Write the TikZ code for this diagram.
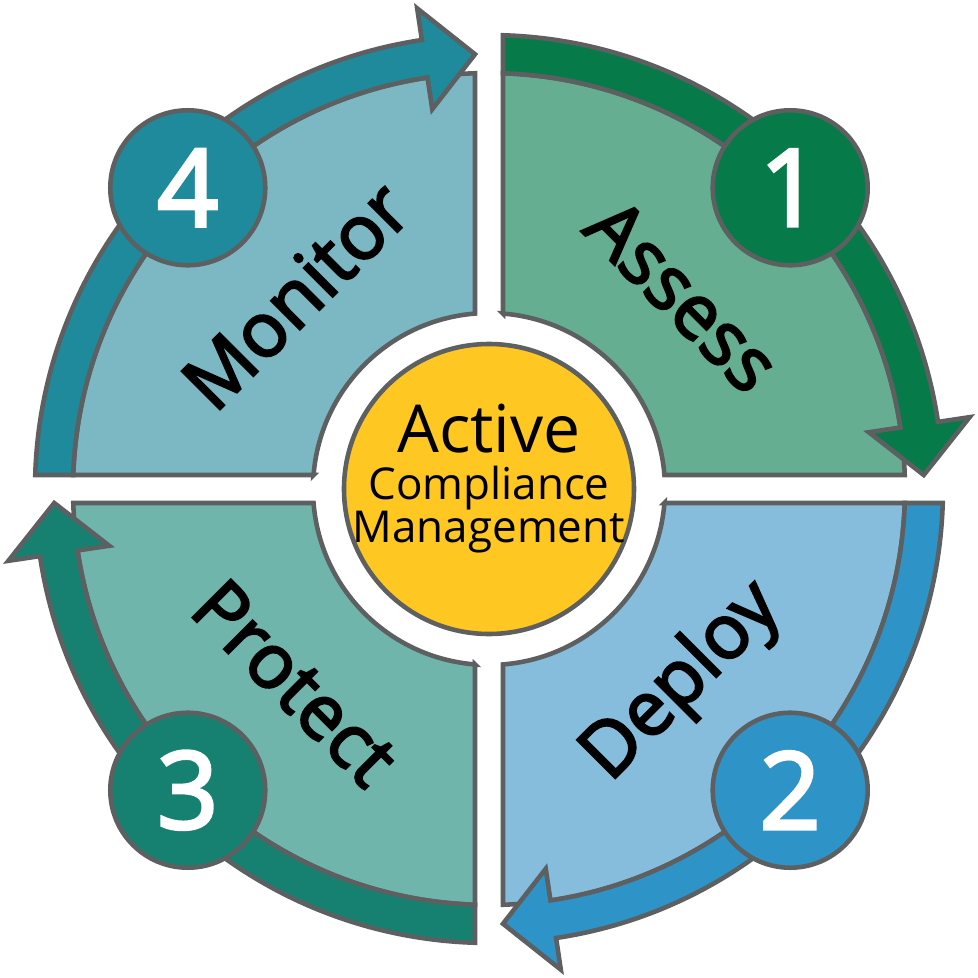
\documentclass[tikz,border=0pt]{standalone}
\usepackage{fontspec}
\setmainfont{Open Sans}
\newfontfamily\stepfont[FakeBold=3]{Open Sans}

\definecolor{edgegrey}{HTML}{5E5F61}
\definecolor{assessfill}{HTML}{66AE91}
\definecolor{assessband}{HTML}{077A4A}
\definecolor{deployfill}{HTML}{86BDDC}
\definecolor{deployband}{HTML}{2E93C6}
\definecolor{protectfill}{HTML}{6FB5AC}
\definecolor{protectband}{HTML}{168170}
\definecolor{monitorfill}{HTML}{7CB8C3}
\definecolor{monitorband}{HTML}{1E8A9B}
\definecolor{coreyellow}{HTML}{FEC722}

\tikzset{
  outline/.style={draw=edgegrey, line width=1.3pt, line join=miter},
  badge/.style={circle, outline, minimum size=1.55cm, inner sep=0pt,
                text=white, font=\stepfont\fontsize{30.5}{30.5}\selectfont},
  steplabel/.style={font=\stepfont\fontsize{21.5}{21.5}\selectfont, inner sep=0pt},
}

\begin{document}
\begin{tikzpicture}
\useasboundingbox (-4.89,-4.89) rectangle (4.89,4.89);

% radii of the ring and half width of the white cross
\def\gap{0.14}
\def\rin{1.76}
\def\rout{4.16}
\def\rband{4.54}
\def\rmid{4.35}
\def\rbadge{4.26}
\def\rlabel{2.74}
\pgfmathsetmacro\barbout{\rmid+0.51}
\pgfmathsetmacro\barbin{\rmid-0.51}
\pgfmathsetmacro\aIn{acos(\gap/\rin)}
\pgfmathsetmacro\aOut{acos(\gap/\rout)}
\pgfmathsetmacro\aBand{acos(\gap/\rband)}
\pgfmathsetmacro\aTip{asin(\gap/\rmid)}
\def\aBase{8.5}

% one quarter: sector, clockwise arrow, number, name
\def\drawquad#1#2#3#4#5#6{
  \begin{scope}[rotate=#1]
    \filldraw[outline, fill=#2]
      (\aIn:\rin) -- (\aOut:\rout)
      arc[start angle=\aOut, end angle=90-\aOut, radius=\rout]
      -- (90-\aIn:\rin)
      arc[start angle=90-\aIn, end angle=\aIn, radius=\rin] -- cycle;
    \filldraw[outline, fill=#3]
      (\aBand:\rband)
      arc[start angle=\aBand, end angle=\aBase, radius=\rband]
      -- (\aBase:\barbout) -- (\aTip:\rmid) -- (\aBase:\barbin)
      -- (\aBase:\rout)
      arc[start angle=\aBase, end angle=\aOut, radius=\rout] -- cycle;
    \node[badge, fill=#3] (badge#4) at (45:\rbadge) {#4};
    \node[steplabel, rotate=#6] (step#4) at (45:\rlabel) {#5};
  \end{scope}
}

\drawquad{0}{assessfill}{assessband}{1}{Assess}{-45}
\drawquad{-90}{deployfill}{deployband}{2}{Deploy}{45}
\drawquad{-180}{protectfill}{protectband}{3}{Protect}{-45}
\drawquad{90}{monitorfill}{monitorband}{4}{Monitor}{45}

% centre disc
\node[circle, outline, fill=coreyellow, minimum size=2.9cm] (core) at (0,0) {};
\node[align=center, anchor=base, inner sep=0pt,
      font=\fontsize{12.5}{12.2}\selectfont] (corename) at (0,-0.53)
  {{\fontsize{18.8}{18.8}\selectfont Active}\\[1.2pt]Compliance\\Management};

\end{tikzpicture}
\end{document}
